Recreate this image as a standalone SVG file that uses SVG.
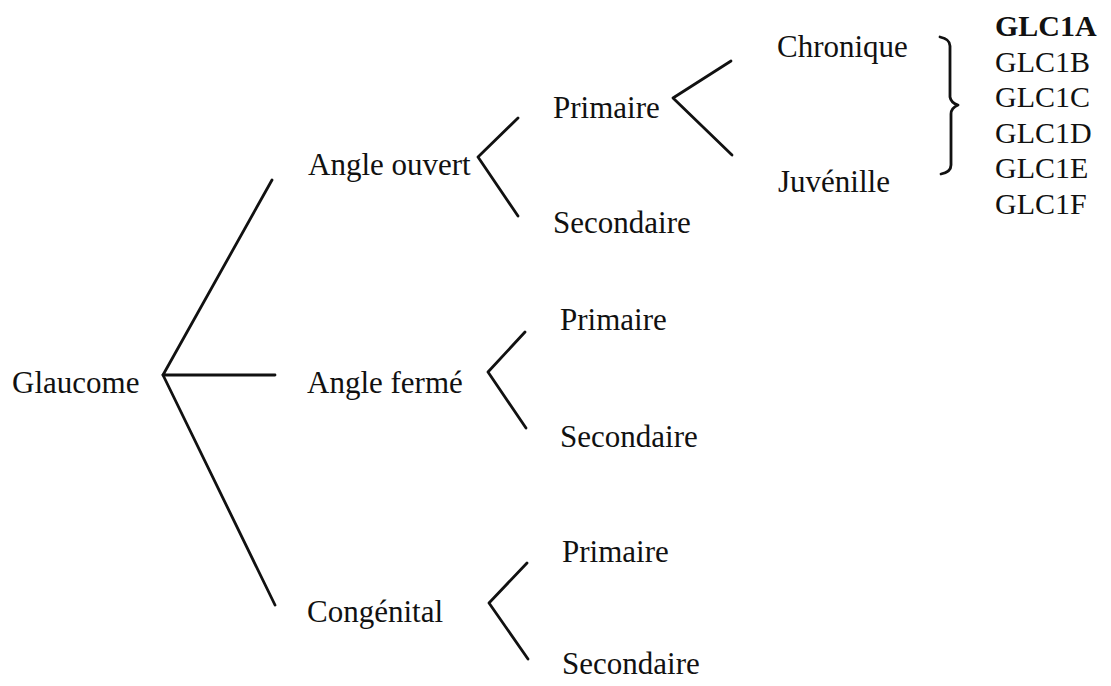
<svg xmlns="http://www.w3.org/2000/svg" width="1111" height="686" viewBox="0 0 1111 686">
<style>
.t{font-family:"Liberation Serif","Times New Roman",serif;font-size:31px;fill:#111}
.g{font-family:"Liberation Serif","Times New Roman",serif;font-size:30px;fill:#111}
.b{font-weight:bold}
.c{fill:none;stroke:#111;stroke-width:2.8;stroke-linecap:round;stroke-linejoin:round}
</style>
<rect width="1111" height="686" fill="#fff"/>
<g id="connectors">
<polyline class="c" points="272,180 163,375 275,375"/>
<polyline class="c" points="163,375 275,605"/>
<polyline class="c" points="518,118 478,157 518,216"/>
<polyline class="c" points="731,61 673,98 732,155"/>
<polyline class="c" points="525,332 488,372 526,428"/>
<polyline class="c" points="527,563 489,603 528,659"/>
<path class="c" d="M940,37 Q950,39 950,46 L950,97 Q951,103 958,105 Q951,108 951,114 L951,165 Q951,172 941,174"/>
</g>
<g id="glaucome"><text class="t" x="12" y="393">Glaucome</text></g>
<g id="angle-ouvert"><text class="t" x="308" y="175">Angle ouvert</text></g>
<g id="ao-primaire"><text class="t" x="553" y="118">Primaire</text></g>
<g id="ao-chronique"><text class="t" x="777" y="57">Chronique</text></g>
<g id="ao-juvenille"><text class="t" x="778" y="192">Juvénille</text></g>
<g id="ao-secondaire"><text class="t" x="553" y="233">Secondaire</text></g>
<g id="genes">
<text class="g b" x="995" y="36">GLC1A</text>
<text class="g" x="995" y="71.5">GLC1B</text>
<text class="g" x="995" y="107">GLC1C</text>
<text class="g" x="995" y="142.5">GLC1D</text>
<text class="g" x="995" y="178">GLC1E</text>
<text class="g" x="995" y="213.5">GLC1F</text>
</g>
<g id="angle-ferme"><text class="t" x="307" y="393">Angle fermé</text></g>
<g id="af-primaire"><text class="t" x="560" y="330">Primaire</text></g>
<g id="af-secondaire"><text class="t" x="560" y="447">Secondaire</text></g>
<g id="congenital"><text class="t" x="307" y="622">Congénital</text></g>
<g id="co-primaire"><text class="t" x="562" y="562">Primaire</text></g>
<g id="co-secondaire"><text class="t" x="562" y="674">Secondaire</text></g>
</svg>
